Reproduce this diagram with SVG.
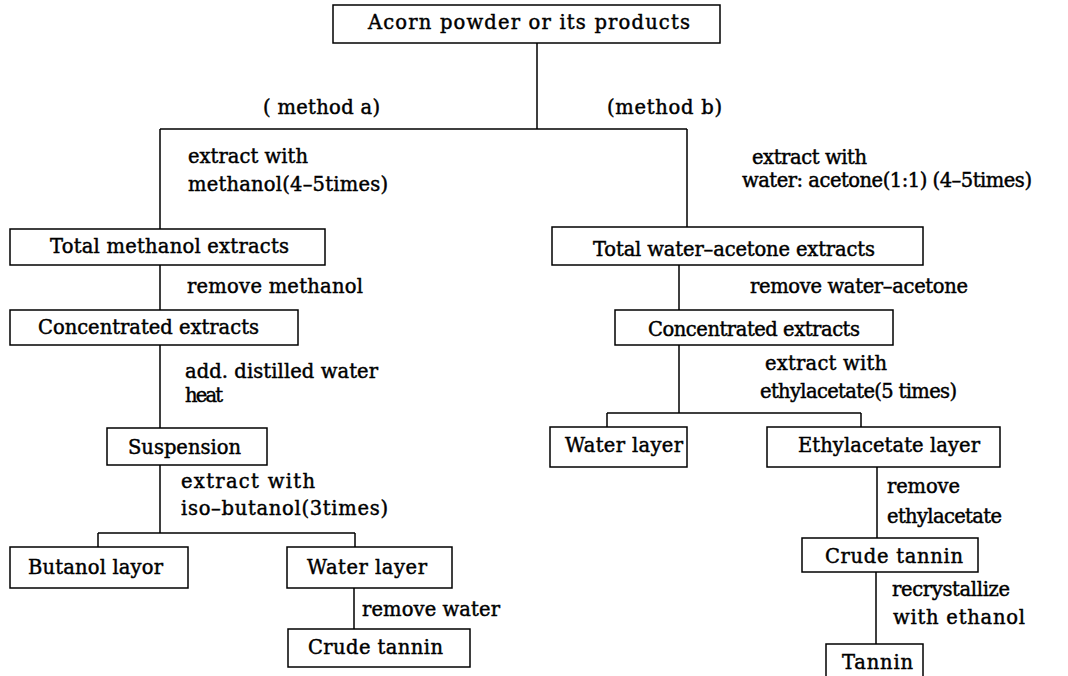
<svg xmlns="http://www.w3.org/2000/svg" width="1068" height="676" viewBox="0 0 1068 676">
<style>
.b{fill:#fff;stroke:#000;stroke-width:1.5}
.l{fill:none;stroke:#000;stroke-width:1.5}
text{font-family:"DejaVu Serif","Liberation Serif",serif;font-size:19.5px;fill:#000;stroke:#000;stroke-width:0.45}
</style>
<rect width="1068" height="676" fill="#fff"/>
<g id="connectors">
<path class="l" d="M537 43V129M160 129H687M160 129V229M687 129V227"/>
<path class="l" d="M160 265V310M160 345V428M160 465V533M98 533H355M98 533V547M355 533V547M354 588V629"/>
<path class="l" d="M679 265V310M679 345V413M607 413H861M607 413V427M861 413V427M877 467V538M876 572V644"/>
</g>
<g id="labels">
<text x="263" y="114" textLength="117" lengthAdjust="spacing">( method a)</text>
<text x="607" y="114" textLength="115" lengthAdjust="spacing">(method b)</text>
<text x="188" y="163" textLength="120" lengthAdjust="spacing">extract with</text>
<text x="188" y="191" textLength="200" lengthAdjust="spacing">methanol(4–5times)</text>
<text x="752" y="164" textLength="115" lengthAdjust="spacing">extract with</text>
<text x="742" y="187" textLength="290" lengthAdjust="spacing">water: acetone(1:1) (4–5times)</text>
<text x="187" y="293" textLength="176" lengthAdjust="spacing">remove methanol</text>
<text x="185" y="378" textLength="193" lengthAdjust="spacing">add. distilled water</text>
<text x="185" y="402" textLength="38" lengthAdjust="spacing">heat</text>
<text x="181" y="488" textLength="134" lengthAdjust="spacing">extract with</text>
<text x="181" y="515" textLength="207" lengthAdjust="spacing">iso–butanol(3times)</text>
<text x="362" y="616" textLength="138" lengthAdjust="spacing">remove water</text>
<text x="750" y="293" textLength="218" lengthAdjust="spacing">remove water–acetone</text>
<text x="765" y="370" textLength="122" lengthAdjust="spacing">extract with</text>
<text x="760" y="398" textLength="197" lengthAdjust="spacing">ethylacetate(5 times)</text>
<text x="887" y="493" textLength="73" lengthAdjust="spacing">remove</text>
<text x="887" y="523" textLength="115" lengthAdjust="spacing">ethylacetate</text>
<text x="892" y="596" textLength="118" lengthAdjust="spacing">recrystallize</text>
<text x="893" y="624" textLength="132" lengthAdjust="spacing">with ethanol</text>
</g>
<g id="n-acorn"><rect class="b" x="333" y="5" width="387" height="38"/><text x="368" y="29" textLength="322" lengthAdjust="spacing">Acorn powder or its products</text></g>
<g id="n-total-methanol"><rect class="b" x="10" y="229" width="315" height="36"/><text x="50" y="253" textLength="239" lengthAdjust="spacing">Total methanol extracts</text></g>
<g id="n-conc-a"><rect class="b" x="10" y="310" width="288" height="35"/><text x="38" y="334" textLength="221" lengthAdjust="spacing">Concentrated extracts</text></g>
<g id="n-suspension"><rect class="b" x="107" y="428" width="160" height="37"/><text x="128" y="454" textLength="113" lengthAdjust="spacing">Suspension</text></g>
<g id="n-butanol"><rect class="b" x="10" y="547" width="178" height="41"/><text x="28" y="574" textLength="135" lengthAdjust="spacing">Butanol layor</text></g>
<g id="n-water-a"><rect class="b" x="287" y="547" width="165" height="41"/><text x="307" y="574" textLength="120" lengthAdjust="spacing">Water layer</text></g>
<g id="n-crude-a"><rect class="b" x="288" y="629" width="182" height="38"/><text x="308" y="654" textLength="135" lengthAdjust="spacing">Crude tannin</text></g>
<g id="n-total-wa"><rect class="b" x="552" y="227" width="371" height="38"/><text x="593" y="256" textLength="282" lengthAdjust="spacing">Total water–acetone extracts</text></g>
<g id="n-conc-b"><rect class="b" x="615" y="310" width="278" height="35"/><text x="648" y="336" textLength="212" lengthAdjust="spacing">Concentrated extracts</text></g>
<g id="n-water-b"><rect class="b" x="550" y="427" width="137" height="40"/><text x="565" y="452" textLength="118" lengthAdjust="spacing">Water layer</text></g>
<g id="n-ethyl"><rect class="b" x="767" y="427" width="233" height="40"/><text x="798" y="452" textLength="182" lengthAdjust="spacing">Ethylacetate layer</text></g>
<g id="n-crude-b"><rect class="b" x="802" y="538" width="176" height="34"/><text x="825" y="563" textLength="138" lengthAdjust="spacing">Crude tannin</text></g>
<g id="n-tannin"><rect class="b" x="826" y="644" width="97" height="40"/><text x="842" y="669" textLength="71" lengthAdjust="spacing">Tannin</text></g>
</svg>
